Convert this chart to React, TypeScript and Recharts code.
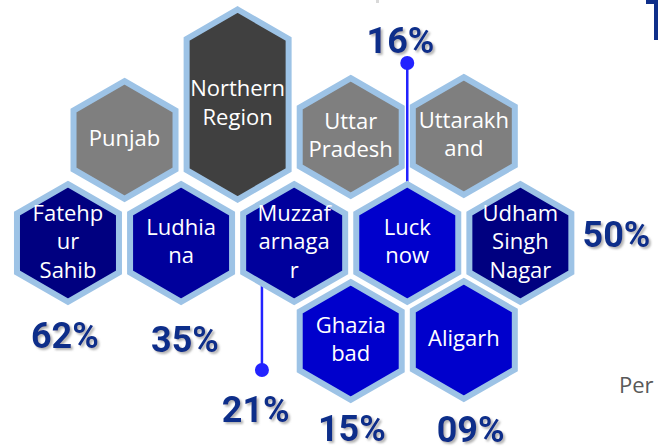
import { ScatterChart, Scatter, XAxis, YAxis, ReferenceLine, ReferenceDot } from 'recharts';

// hexagon tiles, in hex-grid units (column, row)
const places = [
  'Northern Region', 'Punjab', 'Uttar Pradesh', 'Uttarakhand',
  'Fatehpur Sahib', 'Ludhiana', 'Muzzafarnagar', 'Lucknow', 'Udham Singh Nagar',
  'Ghaziabad', 'Aligarh',
];
const placeLines = [
  ['Northern', 'Region'], ['Punjab'], ['Uttar', 'Pradesh'], ['Uttarakh', 'and'],
  ['Fatehp', 'ur', 'Sahib'], ['Ludhia', 'na'], ['Muzzaf', 'arnaga', 'r'], ['Luck', 'now'], ['Udham', 'Singh', 'Nagar'],
  ['Ghazia', 'bad'], ['Aligarh'],
];
const gridCol = [1.5, 0.5, 2.5, 3.5, 0, 1, 2, 3, 4, 2.5, 3.5];
const gridRow = [-1.385, -1.03, -1.06, -1.07, 0, 0, 0, 0, 0, 0.98, 0.97];
const tiers = ['region', 'state', 'state', 'state', 'dark', 'mid', 'mid', 'bright', 'dark', 'bright', 'bright'];

// percentage call-outs
const shareText = ['62%', '35%', '21%', '15%', '09%', '50%', '16%'];
const shareCol = [-0.027, 1.035, 1.66, 2.51, 3.56, 4.85, 2.94];
const shareRow = [1.05, 1.09, 1.79, 1.98, 1.99, 0.04, -1.9];

// pins (dot + stem)
const pinCol = [3.0, 1.715];
const pinDotRow = [-1.8, 1.27];
const pinEndRow = [-0.6, 0.35];

const tiles = places.map((name, i) => ({
  name,
  lines: placeLines[i],
  x: gridCol[i],
  y: gridRow[i],
  tier: tiers[i],
}));

const shares = shareText.map((text, i) => ({ text, x: shareCol[i], y: shareRow[i] }));

const fills: Record<string, string> = {
  region: '#404040',
  state: '#7F7F7F',
  dark: '#000080',
  mid: '#00009C',
  bright: '#0000CC',
};

const HexTile = (props: any) => {
  const { cx, cy, payload } = props;
  if (cx == null || cy == null) return null;
  const w = 51;
  const r = 58.9;
  const extra = payload.tier === 'region' ? 36.1 : 0;
  const top = r + extra;
  const shoulder = r / 2 + extra;
  const d = `M${cx},${cy - top} L${cx + w},${cy - shoulder} L${cx + w},${cy + shoulder} L${cx},${cy + top} L${cx - w},${cy + shoulder} L${cx - w},${cy - shoulder} Z`;
  const lines: string[] = payload.lines;
  const lh = 28.5;
  return (
    <g>
      <path d={d} fill={fills[payload.tier]} stroke="#9DC3E6" strokeWidth={6} strokeLinejoin="miter" />
      {lines.map((t, i) => (
        <text
          key={i}
          x={cx}
          y={cy + 6 + (i - (lines.length - 1) / 2) * lh}
          textAnchor="middle"
          fill="#ffffff"
          fontFamily="'Open Sans', sans-serif"
          fontSize={22}
        >
          {t}
        </text>
      ))}
    </g>
  );
};

const ShareLabel = (props: any) => {
  const { cx, cy, payload } = props;
  if (cx == null || cy == null) return null;
  return (
    <text
      x={cx}
      y={cy}
      textAnchor="middle"
      fill="#0F2F8A"
      fontFamily="Roboto, sans-serif"
      fontWeight={700}
      fontSize={36}
      filter="url(#pctShadow)"
    >
      {payload.text}
    </text>
  );
};

export default function App() {
  return (
    <div style={{ position: 'absolute', left: 0, top: 0, width: 658, height: 446, background: '#fff', overflow: 'hidden' }}>
      <svg width={0} height={0} style={{ position: 'absolute' }}>
        <defs>
          <filter id="pctShadow" x="-20%" y="-20%" width="140%" height="160%">
            <feDropShadow dx={2} dy={2} stdDeviation={1} floodColor="#808080" floodOpacity={0.6} />
          </filter>
        </defs>
      </svg>
      <ScatterChart width={658} height={446} margin={{ top: 0, right: 0, bottom: 0, left: 0 }}>
        <XAxis type="number" dataKey="x" domain={[-0.601, 5.217]} hide />
        <YAxis type="number" dataKey="y" domain={[-2.43, 2.03]} reversed hide />
        <Scatter data={tiles} shape={(p: any) => <HexTile {...p} />} isAnimationActive={false} />
        {pinCol.map((c, i) => (
          <ReferenceLine
            key={`stem-${i}`}
            segment={[{ x: c, y: pinDotRow[i] }, { x: c, y: pinEndRow[i] }]}
            stroke="#2323FF"
            strokeWidth={2.5}
          />
        ))}
        {pinCol.map((c, i) => (
          <ReferenceDot key={`dot-${i}`} x={c} y={pinDotRow[i]} r={7} fill="#2323FF" stroke="none" />
        ))}
        <Scatter data={shares} shape={(p: any) => <ShareLabel {...p} />} isAnimationActive={false} />
      </ScatterChart>
      <svg width={658} height={446} style={{ position: 'absolute', left: 0, top: 0, pointerEvents: 'none' }}>
        <text x={619} y={393} fill="#595959" fontFamily="'Open Sans', sans-serif" fontSize={22}>
          Per
        </text>
        <path d="M646,0 L658,0 L658,40 L654,40 L654,4 L646,4 Z" fill="#0F2F8A" />
        <rect x={376} y={0} width={3} height={3} fill="#D9D9D9" />
      </svg>
    </div>
  );
}
